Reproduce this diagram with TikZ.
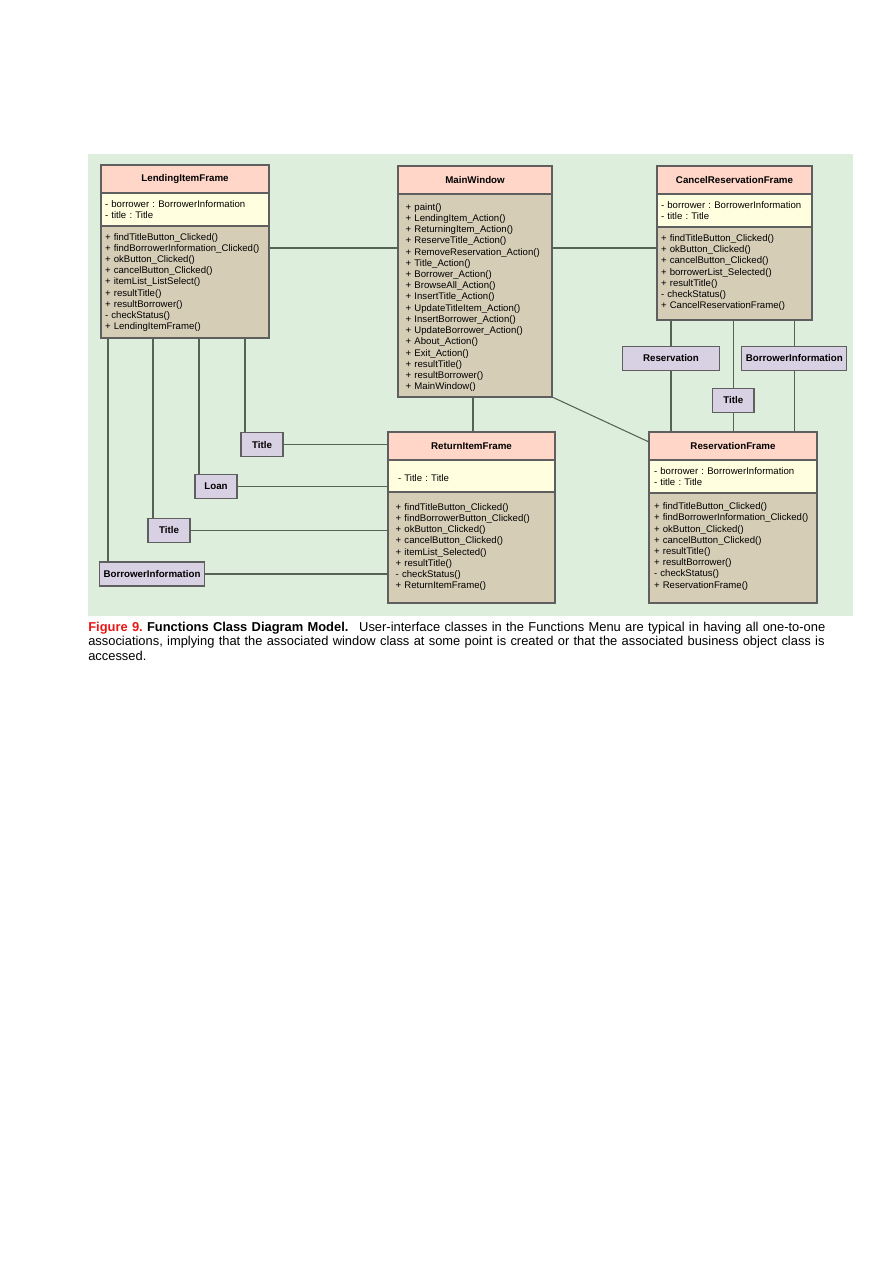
\documentclass[tikz,border=0pt]{standalone}
\usepackage{fontspec}
\setmainfont{Liberation Sans}
\frenchspacing
\usetikzlibrary{calc}
\definecolor{bggreen}{RGB}{221,238,221}
\definecolor{hdrpink}{RGB}{255,214,200}
\definecolor{attryellow}{RGB}{255,255,224}
\definecolor{opstan}{RGB}{214,205,183}
\definecolor{objlilac}{RGB}{216,208,227}
\definecolor{edgegray}{RGB}{95,95,95}
\definecolor{linkgray}{RGB}{85,98,85}
\definecolor{figred}{RGB}{232,22,22}

\begin{document}
\begin{tikzpicture}[x=0.6667pt,y=-0.6667pt,
    hdr/.style={draw=edgegray,line width=0.8pt,fill=hdrpink,anchor=north west,inner sep=0pt,outer sep=0pt,
      minimum height=18.67pt,font=\fontsize{6.5}{7.5}\selectfont\bfseries},
    comp/.style={draw=edgegray,line width=0.8pt,anchor=north west,inner ysep=0pt,inner xsep=2.67pt,outer sep=0pt,
      align=left,font=\fontsize{6.4}{7.47}\selectfont},
    attrs/.style={comp,fill=attryellow},
    ops/.style={comp,fill=opstan},
    obj/.style={draw=edgegray,line width=0.8pt,fill=objlilac,minimum width=28pt,minimum height=16pt,inner sep=0pt,
      font=\fontsize{6.5}{7.5}\selectfont\bfseries},
    link/.style={draw=linkgray,line width=0.7pt}]
  \useasboundingbox (0,0) rectangle (893,1263);
  \fill[bggreen] (88,154) rectangle (853,616);

  % LendingItemFrame
  \node[hdr,minimum width=112pt] (lendhdr) at (101,165) {LendingItemFrame};
  \node[attrs,text width=106.67pt,text height=9.8pt,text depth=12.2pt] (lendattr) at (lendhdr.south west)
    {-~borrower : BorrowerInformation\\-~title : Title};
  \node[ops,text width=106.67pt,text height=9.33pt,text depth=65.33pt] (lendops) at (lendattr.south west)
    {+~findTitleButton\_Clicked()\\+~findBorrowerInformation\_Clicked()\\+~okButton\_Clicked()\\
     +~cancelButton\_Clicked()\\+~itemList\_ListSelect()\\+~resultTitle()\\+~resultBorrower()\\
     -~checkStatus()\\+~LendingItemFrame()};

  % MainWindow
  \node[hdr,minimum width=102.67pt] (mainhdr) at (398,166) {MainWindow};
  \node[ops,inner xsep=5.1pt,text width=92.47pt,text height=10.9pt,text depth=124.4pt] (mainops) at (mainhdr.south west)
    {+~paint()\\+~LendingItem\_Action()\\+~ReturningItem\_Action()\\+~ReserveTitle\_Action()\\
     +~RemoveReservation\_Action()\\+~Title\_Action()\\+~Borrower\_Action()\\+~BrowseAll\_Action()\\
     +~InsertTitle\_Action()\\+~UpdateTitleItem\_Action()\\+~InsertBorrower\_Action()\\
     +~UpdateBorrower\_Action()\\+~About\_Action()\\+~Exit\_Action()\\+~resultTitle()\\
     +~resultBorrower()\\+~MainWindow()};

  % CancelReservationFrame
  \node[hdr,minimum width=103.33pt] (canchdr) at (657,166) {CancelReservationFrame};
  \node[attrs,text width=98pt,text height=9.8pt,text depth=12.2pt] (cancattr) at (canchdr.south west)
    {-~borrower : BorrowerInformation\\-~title : Title};
  \node[ops,text width=98pt,text height=9.7pt,text depth=52.3pt] (cancops) at (cancattr.south west)
    {+~findTitleButton\_Clicked()\\+~okButton\_Clicked()\\+~cancelButton\_Clicked()\\
     +~borrowerList\_Selected()\\+~resultTitle()\\-~checkStatus()\\+~CancelReservationFrame()};

  % ReturnItemFrame
  \node[hdr,minimum width=111.33pt] (rethdr) at (388,432) {ReturnItemFrame};
  \node[attrs,inner xsep=6.67pt,text width=98pt,text height=14pt,text depth=7.33pt] (retattr) at (rethdr.south west)
    {-~Title : Title};
  \node[ops,inner xsep=5.1pt,text width=101.13pt,text height=12.2pt,text depth=61.8pt] (retops) at (retattr.south west)
    {+~findTitleButton\_Clicked()\\+~findBorrowerButton\_Clicked()\\+~okButton\_Clicked()\\
     +~cancelButton\_Clicked()\\+~itemList\_Selected()\\+~resultTitle()\\-~checkStatus()\\
     +~ReturnItemFrame()};

  % ReservationFrame
  \node[hdr,minimum width=112pt] (resvhdr) at (649,432) {ReservationFrame};
  \node[attrs,inner xsep=3.33pt,text width=105.33pt,text height=9.8pt,text depth=12.2pt] (resvattr) at (resvhdr.south west)
    {-~borrower : BorrowerInformation\\-~title : Title};
  \node[ops,inner xsep=3.33pt,text width=105.33pt,text height=11.1pt,text depth=62.2pt] (resvops) at (resvattr.south west)
    {+~findTitleButton\_Clicked()\\+~findBorrowerInformation\_Clicked()\\+~okButton\_Clicked()\\
     +~cancelButton\_Clicked()\\+~resultTitle()\\+~resultBorrower()\\-~checkStatus()\\
     +~ReservationFrame()};

  % business objects
  \node[obj] (titleA) at (262,444.7) {Title};
  \node[obj] (loan) at (216,486.3) {Loan};
  \node[obj] (titleB) at (169,530.3) {Title};
  \node[obj,minimum width=70pt] (borrowerA) at (152,574) {BorrowerInformation};
  \node[obj,minimum width=64.67pt] (reservation) at (671,358.3) {Reservation};
  \node[obj,minimum width=70pt] (borrowerB) at (794.3,358.3) {BorrowerInformation};
  \node[obj,minimum width=27.5pt] (titleC) at (733.3,400.5) {Title};

  % associations
  \draw[link] (lendops.east |- 0,248) -- (mainops.west |- 0,248);
  \draw[link] (mainops.east |- 0,248) -- (cancops.west |- 0,248);
  \draw[link] (mainops.south -| 473,0) -- (rethdr.north -| 473,0);
  \draw[link] (mainops.south east) -- (resvhdr.west |- 0,442);
  \draw[link] (lendops.south -| 245,0) -- (titleA.north -| 245,0);
  \draw[link] (lendops.south -| 199,0) -- (loan.north -| 199,0);
  \draw[link] (lendops.south -| 153,0) -- (titleB.north -| 153,0);
  \draw[link] (lendops.south -| 108,0) -- (borrowerA.north -| 108,0);
  \draw[link] (titleA.east) -- (titleA.east -| rethdr.west);
  \draw[link] (loan.east) -- (loan.east -| retattr.west);
  \draw[link] (titleB.east) -- (titleB.east -| retops.west);
  \draw[link] (borrowerA.east) -- (borrowerA.east -| retops.west);
  \draw[link] (cancops.south -| reservation.north) -- (reservation.north);
  \draw[link] (reservation.south) -- (reservation.south |- resvhdr.north);
  \draw[link] (cancops.south -| titleC.north) -- (titleC.north);
  \draw[link] (titleC.south) -- (titleC.south |- resvhdr.north);
  \draw[link] (cancops.south -| borrowerB.north) -- (borrowerB.north);
  \draw[link] (borrowerB.south) -- (borrowerB.south |- resvhdr.north);

  % caption
  \node[anchor=base west,text width=515pt,align=left,inner sep=0pt,font=\fontsize{8.6}{9.7}\selectfont] (caption) at (88,631)
    {\textcolor{figred}{\textbf{Figure 9.}} \textbf{Functions Class Diagram Model.}\enspace\ User-interface classes in the Functions Menu are typical in having all one-to-one\\
     associations, implying that the associated window class at some point is created or that the associated business object class is\\
     accessed.};
\end{tikzpicture}
\end{document}
